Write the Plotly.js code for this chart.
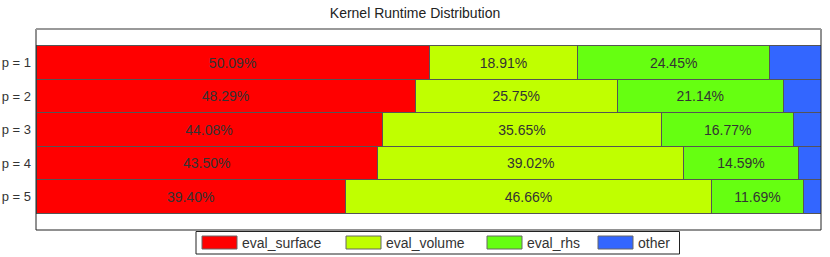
<!DOCTYPE html>
<html>
<head>
<meta charset="utf-8">
<script src="https://cdn.plot.ly/plotly-3.0.1.min.js"></script>
<style>html,body{margin:0;padding:0;background:#fff;}#chart{width:830px;height:257px;}</style>
</head>
<body>
<div id="chart"></div>
<script>
const categories = ['p = 1', 'p = 2', 'p = 3', 'p = 4', 'p = 5'];
const evalSurface = [50.09, 48.29, 44.08, 43.50, 39.40];
const evalVolume  = [18.91, 25.75, 35.65, 39.02, 46.66];
const evalRhs     = [24.45, 21.14, 16.77, 14.59, 11.69];
const other       = [6.55, 4.82, 3.50, 2.89, 2.25];
const seriesNames = ['eval_surface', 'eval_volume', 'eval_rhs', 'other'];
const seriesColors = ['#ff0000', '#c0ff00', '#66ff11', '#3366ff'];
const seriesValues = [evalSurface, evalVolume, evalRhs, other];
const showText = [true, true, true, false];

const W = 830, H = 257;
const M = {l: 36, r: 9, t: 29, b: 27};
const pw = W - M.l - M.r, ph = H - M.t - M.b;
const px = x => (x - M.l) / pw;
const py = y => (H - M.b - y) / ph;
const FONT = 'Liberation Sans, Arial, sans-serif';

const traces = seriesNames.map((name, i) => ({
  type: 'bar',
  orientation: 'h',
  name: name,
  y: categories,
  x: seriesValues[i],
  marker: {color: seriesColors[i], line: {color: '#555', width: 1}},
  text: showText[i] ? seriesValues[i].map(v => v.toFixed(2) + '%') : null,
  textposition: showText[i] ? 'inside' : 'none',
  insidetextanchor: 'middle',
  textangle: 0,
  insidetextfont: {family: FONT, size: 14, color: '#333'},
  constraintext: 'none',
  hoverinfo: 'none',
  showlegend: false
}));

// custom legend (layout decoration)
const legendX = [202, 346, 487, 598];
const shapes = [
  {type: 'rect', xref: 'paper', yref: 'paper', x0: 0, x1: 1, y0: 0, y1: 1, line: {color: '#222', width: 1}, fillcolor: 'rgba(0,0,0,0)'},
  {type: 'line', xref: 'paper', yref: 'paper', x0: px(36), x1: px(821), y0: py(29), y1: py(29), line: {color: '#999', width: 2}},
  {type: 'rect', xref: 'paper', yref: 'paper', x0: px(196), x1: px(679.5), y0: py(231.5), y1: py(254), line: {color: '#222', width: 1}, fillcolor: '#fff'}
];
const annotations = [];
seriesNames.forEach((name, i) => {
  const x0 = legendX[i];
  shapes.push({type: 'rect', xref: 'paper', yref: 'paper', x0: px(x0), x1: px(x0 + 35), y0: py(236), y1: py(249), line: {color: '#666', width: 1}, fillcolor: seriesColors[i]});
  annotations.push({xref: 'paper', yref: 'paper', x: px(x0 + 38), y: py(242.5), xanchor: 'left', yanchor: 'middle', text: name, showarrow: false, font: {family: FONT, size: 14, color: '#333'}});
});

const layout = {
  width: W, height: H,
  margin: M,
  paper_bgcolor: '#fff', plot_bgcolor: '#fff',
  barmode: 'stack', bargap: 0,
  showlegend: false,
  font: {family: FONT, size: 12, color: '#333'},
  title: {text: 'Kernel Runtime Distribution', x: px(428.5), xanchor: 'center', y: 1 - 13 / H, yanchor: 'middle', font: {size: 14, color: '#222'}},
  xaxis: {range: [0, 100], showgrid: false, zeroline: false, showticklabels: false, ticks: '', showline: false, fixedrange: true},
  yaxis: {type: 'category', categoryorder: 'array', categoryarray: categories, range: [5, -1], showgrid: false, zeroline: false, ticks: '', showline: false, tickfont: {size: 13, color: '#333'}, ticklabelstandoff: 4},
  shapes: shapes,
  annotations: annotations
};

Plotly.newPlot('chart', traces, layout, {staticPlot: true, displayModeBar: false});
</script>
</body>
</html>
